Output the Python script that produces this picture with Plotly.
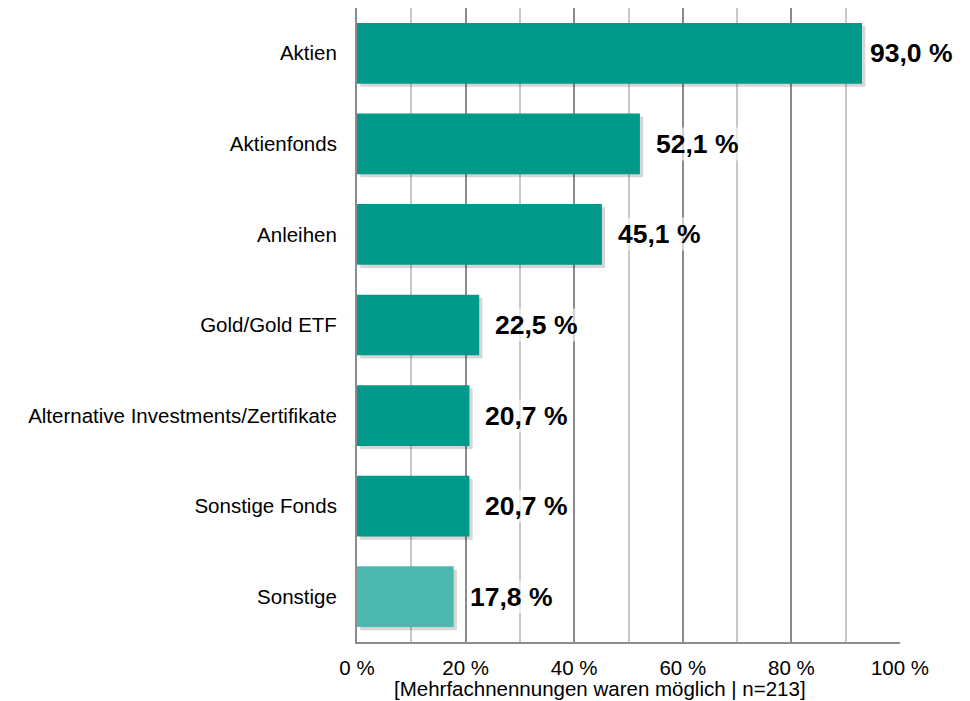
import plotly.graph_objects as go

categories = ["Aktien", "Aktienfonds", "Anleihen", "Gold/Gold ETF",
              "Alternative Investments/Zertifikate", "Sonstige Fonds", "Sonstige"]
values = [93.0, 52.1, 45.1, 22.5, 20.7, 20.7, 17.8]
bar_colors = ["#00998A"] * 6 + ["#4DB8AE"]

font = "Liberation Sans, Arial, sans-serif"

fig = go.Figure()

# soft shadow behind the bars
fig.add_trace(go.Bar(
    y=categories, x=values, orientation="h",
    base=0.6, width=0.67, offset=-0.30,
    marker=dict(color="rgba(0,0,0,0.16)", line=dict(width=0)),
    hoverinfo="skip", showlegend=False,
))
fig.add_trace(go.Bar(
    y=categories, x=values, orientation="h",
    width=0.67, offset=-0.335,
    marker=dict(color=bar_colors, line=dict(width=0)),
    hoverinfo="skip", showlegend=False,
))

for c, v in zip(categories, values):
    # the long bar's label sits tighter so it fits next to the 100 % line
    fig.add_annotation(
        x=v, y=c, text=f"{v:.1f} %".replace(".", ","),
        xanchor="left", showarrow=False, xshift=6 if v > 90 else 14,
        font=dict(family=font, size=26.5, color="black", weight="bold"),
        bgcolor="rgba(255,255,255,0.6)",
    )

fig.add_annotation(
    text="[Mehrfachnennungen waren möglich | n=213]",
    xref="paper", yref="paper", x=0.4466, y=-0.0735,
    xanchor="center", yanchor="middle", showarrow=False,
    font=dict(family=font, size=20.5, color="black"),
)

fig.update_layout(
    width=970, height=701,
    margin=dict(l=349, r=78, t=0, b=67),
    plot_bgcolor="white", paper_bgcolor="white",
    barmode="overlay",
    font=dict(family=font, size=20.5, color="black"),
    xaxis=dict(
        range=[0, 100], dtick=20, ticksuffix=" %",
        showgrid=True, gridcolor="#8C8C8C", gridwidth=1.5,
        minor=dict(dtick=10, showgrid=True, gridcolor="#C8C8C8", gridwidth=1.5),
        showline=True, linecolor="#8C8C8C", linewidth=2,
        zeroline=False, ticks="", ticklabelstandoff=6,
    ),
    yaxis=dict(
        autorange="reversed", showline=True, linecolor="#8C8C8C", linewidth=2,
        showgrid=False, ticks="", ticklabelstandoff=14,
    ),
)

fig.write_html("out.html")
